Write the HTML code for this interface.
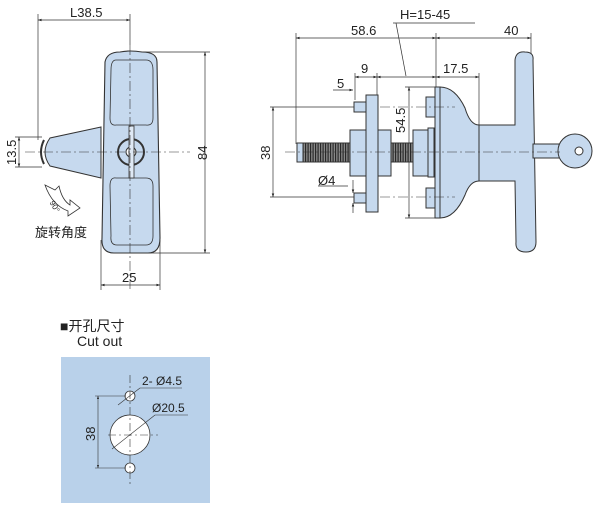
<!DOCTYPE html>
<html><head><meta charset="utf-8"><style>
html,body{margin:0;padding:0;background:#fff}
svg{display:block}
text{font-family:"Liberation Sans","Noto Sans CJK SC",sans-serif;fill:#222}
</style></head><body>
<svg width="600" height="512" viewBox="0 0 600 512" xmlns="http://www.w3.org/2000/svg">
<defs>
<marker id="a" viewBox="0 0 10 10" refX="10" refY="5" markerWidth="7" markerHeight="5" orient="auto-start-reverse"><path d="M0,1.5L10,5L0,8.5z" fill="#222"/></marker>
<pattern id="th" width="2.5" height="20" patternUnits="userSpaceOnUse"><rect width="2.5" height="20" fill="#888"/><line x1="0.6" y1="0" x2="0.6" y2="20" stroke="#222" stroke-width="1.1"/></pattern>
</defs>
<g stroke="#333" stroke-width="0.7" fill="none">
<line x1="38" y1="14" x2="38" y2="140"/>
<line x1="130" y1="14" x2="130" y2="45"/>
<line x1="38" y1="20" x2="130" y2="20" marker-start="url(#a)" marker-end="url(#a)"/>
<line x1="130" y1="52" x2="210" y2="52"/>
<line x1="130" y1="253" x2="210" y2="253"/>
<line x1="205" y1="52" x2="205" y2="253" marker-start="url(#a)" marker-end="url(#a)"/>
<line x1="15" y1="137" x2="42" y2="137"/>
<line x1="15" y1="167" x2="42" y2="167"/>
<line x1="19" y1="137" x2="19" y2="167" marker-start="url(#a)" marker-end="url(#a)"/>
<line x1="101" y1="240" x2="101" y2="290"/>
<line x1="160" y1="240" x2="160" y2="290"/>
<line x1="101" y1="285" x2="160" y2="285" marker-start="url(#a)" marker-end="url(#a)"/>
</g>
<path d="M101,127 L50,138 Q40,152 50,166 L101,178 Z" fill="#c6d9ee" stroke="#333" stroke-width="1"/>
<path d="M44,140 Q38,152 44,164" stroke="#333" stroke-width="2" fill="none"/>
<path d="M120,52 Q130,50 142,52 Q157,52 157,62 L160,238 Q160,253 148,253 L114,253 Q101,253 102,238 L105,62 Q107,52 120,52Z" fill="#c6d9ee" stroke="#333" stroke-width="1.1"/>
<path d="M116,60 L146,60 Q153,60 153,70 L153,118 Q153,126 146,125 L116,125 Q110,126 110,118 L111,70 Q111,60 116,60Z" fill="none" stroke="#333" stroke-width="0.8"/>
<path d="M116,178 L146,178 Q153,178 153,186 L153,236 Q153,245 146,245 L117,245 Q110,245 111,236 L110,186 Q110,177 116,178Z" fill="none" stroke="#333" stroke-width="0.8"/>
<circle cx="131" cy="152" r="13" fill="#c6d9ee" stroke="#333" stroke-width="2"/>
<circle cx="131" cy="152" r="5" fill="#fff" stroke="#333" stroke-width="1"/>
<rect x="129" y="126" width="5" height="52" fill="#dfe9f5" stroke="#333" stroke-width="0.8"/>
<g stroke="#333" stroke-width="0.6" stroke-dasharray="10,3,2,3" fill="none">
<line x1="25" y1="152" x2="190" y2="152"/>
<line x1="130" y1="45" x2="130" y2="292"/>
</g>
<path d="M45,185 L55,190 L59,186 Q62,200 70,205 L70,200 L80,208 L68,216 L68,211 Q52,205 45,185Z" fill="#fff" stroke="#333" stroke-width="0.8"/>
<text x="52" y="204" font-size="8" transform="rotate(60 52 201)">90°</text>
<text x="35" y="237" font-size="13">旋转角度</text>
<text x="70" y="17" font-size="13">L38.5</text>
<text x="122" y="282" font-size="13">25</text>
<text x="0" y="0" font-size="13" transform="translate(207,160) rotate(-90)">84</text>
<text x="0" y="0" font-size="13" transform="translate(16,165) rotate(-90)">13.5</text>

<g stroke="#333" stroke-width="0.7" fill="none">
<line x1="296" y1="33" x2="296" y2="144"/>
<line x1="436" y1="33" x2="436" y2="87"/>
<line x1="531" y1="33" x2="531" y2="55"/>
<line x1="296" y1="38" x2="436" y2="38" marker-start="url(#a)" marker-end="url(#a)"/>
<line x1="436" y1="38" x2="531" y2="38" marker-start="url(#a)" marker-end="url(#a)"/>
<line x1="393" y1="23" x2="475" y2="23"/>
<line x1="396" y1="23" x2="406" y2="76"/>
<line x1="355" y1="73" x2="355" y2="100"/>
<line x1="377" y1="73" x2="377" y2="95"/>
<line x1="479" y1="73" x2="479" y2="125"/>
<line x1="355" y1="77" x2="377" y2="77" marker-start="url(#a)" marker-end="url(#a)"/>
<line x1="377" y1="77" x2="436" y2="77" marker-start="url(#a)" marker-end="url(#a)"/>
<line x1="436" y1="77" x2="479" y2="77" marker-start="url(#a)" marker-end="url(#a)"/>
<line x1="333" y1="90" x2="353" y2="90" marker-end="url(#a)"/>
<line x1="270" y1="107" x2="360" y2="107"/>
<line x1="270" y1="197" x2="360" y2="197"/>
<line x1="273" y1="107" x2="273" y2="197" marker-start="url(#a)" marker-end="url(#a)"/>
<line x1="405" y1="87" x2="436" y2="87"/>
<line x1="405" y1="218" x2="436" y2="218"/>
<line x1="409" y1="87" x2="409" y2="218" marker-start="url(#a)" marker-end="url(#a)"/>
<line x1="452" y1="107" x2="452" y2="197" marker-start="url(#a)" marker-end="url(#a)"/>
<line x1="318" y1="186" x2="348" y2="186"/>
<line x1="353" y1="180" x2="353" y2="193" marker-end="url(#a)"/>
<line x1="353" y1="213" x2="353" y2="203" marker-end="url(#a)"/>
</g>
<text x="351" y="35" font-size="13">58.6</text>
<text x="504" y="35" font-size="13">40</text>
<text x="400" y="19" font-size="13">H=15-45</text>
<text x="361" y="73" font-size="13">9</text>
<text x="443" y="73" font-size="13">17.5</text>
<text x="337" y="88" font-size="13">5</text>
<text x="318" y="185" font-size="13">Ø4</text>
<text x="0" y="0" font-size="13" transform="translate(270,160) rotate(-90)">38</text>
<text x="0" y="0" font-size="13" transform="translate(405,133) rotate(-90)">54.5</text>
<text x="0" y="0" font-size="13" transform="translate(450,160) rotate(-90)">38</text>

<g stroke="#333" stroke-width="1" fill="#c6d9ee">
<path d="M515,60 Q516,51 525,52 Q534,52 533,60 L536,242 Q536,252 526,252 Q515,252 516,242 L515,181 L479,181 Q470,181 465,195 Q455,218 440,218 L440,87 Q455,87 465,108 Q470,125 479,125 L515,125Z"/>
<line x1="479" y1="125" x2="479" y2="181"/>
<rect x="533" y="144" width="28" height="14"/>
<circle cx="575" cy="151" r="17"/>
<circle cx="579" cy="151" r="4" fill="#fff"/>
<rect x="435" y="87" width="5" height="131"/>
<rect x="297" y="143" width="116" height="19" fill="url(#th)"/>
<rect x="297" y="143" width="6" height="19" fill="#c6d9ee"/>
<rect x="354" y="102" width="14" height="10"/>
<rect x="354" y="193" width="14" height="10"/>
<rect x="350" y="130" width="18" height="46"/>
<rect x="376" y="130" width="15" height="46"/>
<rect x="366" y="95" width="12" height="117"/>
<rect x="413" y="130" width="15" height="46"/>
<rect x="428" y="128" width="6" height="49"/>
<rect x="426" y="97" width="9" height="20"/>
<rect x="426" y="188" width="9" height="20"/>
</g>
<g stroke="#333" stroke-width="0.6" stroke-dasharray="10,3,2,3" fill="none">
<line x1="285" y1="152" x2="560" y2="152"/>
<line x1="380" y1="107" x2="455" y2="107"/>
<line x1="380" y1="197" x2="455" y2="197"/>
</g>

<text x="60" y="331" font-size="14">■开孔尺寸</text>
<text x="77" y="346" font-size="14">Cut out</text>
<rect x="61" y="357" width="149" height="146" fill="#b9d1ea"/>
<g stroke="#333" stroke-width="0.8" fill="#fff">
<circle cx="130" cy="435" r="20"/>
<circle cx="130" cy="396" r="5"/>
<circle cx="130" cy="468" r="5"/>
</g>
<g stroke="#333" stroke-width="0.6" fill="none">
<line x1="95" y1="396" x2="126" y2="396"/>
<line x1="95" y1="468" x2="126" y2="468"/>
<line x1="98" y1="396" x2="98" y2="468" marker-start="url(#a)" marker-end="url(#a)"/>
<line x1="112" y1="449" x2="155" y2="415"/>
<line x1="155" y1="415" x2="188" y2="415"/>
<line x1="118" y1="405" x2="140" y2="388"/>
<line x1="140" y1="388" x2="182" y2="388"/>
<g stroke-dasharray="8,3,2,3"><line x1="130" y1="375" x2="130" y2="485"/><line x1="108" y1="435" x2="158" y2="435"/></g>
</g>
<text x="142" y="385" font-size="12">2- Ø4.5</text>
<text x="152" y="412" font-size="12">Ø20.5</text>
<text x="0" y="0" font-size="13" transform="translate(95,441) rotate(-90)">38</text>
</svg>
</body></html>
